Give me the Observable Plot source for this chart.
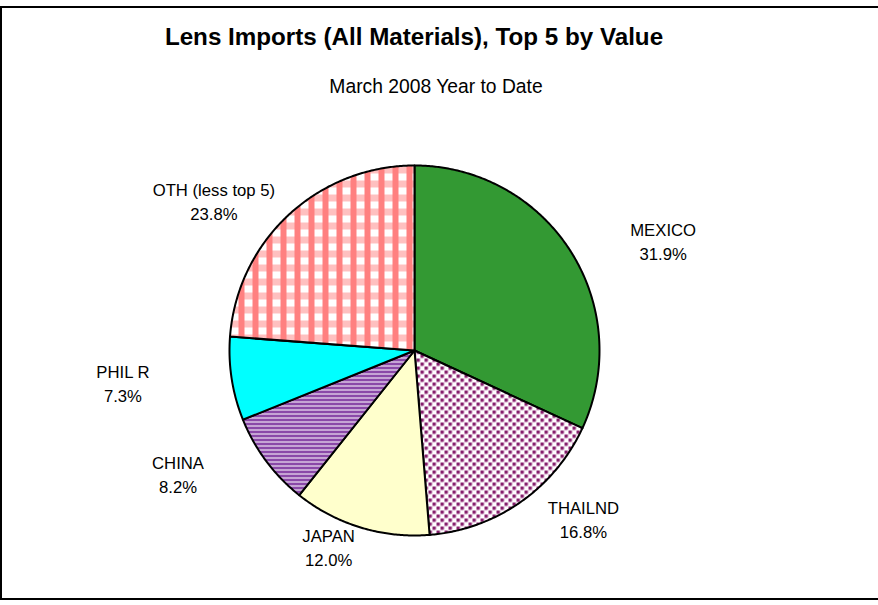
<!DOCTYPE html>
<html>
<head>
<meta charset="utf-8">
<script src="https://cdn.jsdelivr.net/npm/d3@7"></script>
<script src="https://cdn.jsdelivr.net/npm/@observablehq/plot@0.6"></script>
<style>
  html, body { margin: 0; padding: 0; background: #fff; }
  body { width: 878px; height: 605px; position: relative; overflow: hidden; font-family: "Liberation Sans", Arial, sans-serif; }
  #frame { position: absolute; left: 0px; top: 6px; width: 900px; height: 590px; border: 2px solid #000; box-sizing: content-box; }
  #title { position: absolute; left: 0; width: 828px; top: 23px; text-align: center; font-weight: bold; font-size: 24.2px; line-height: 28px; color: #000; }
  #subtitle { position: absolute; left: 0; width: 872px; top: 75px; text-align: center; font-size: 19.3px; line-height: 24px; color: #000; }
  #chart { position: absolute; left: 0; top: 110px; }
</style>
</head>
<body>
<div id="frame"></div>
<div id="title">Lens Imports (All Materials), Top 5 by Value</div>
<div id="subtitle">March 2008 Year to Date</div>
<div id="chart"></div>
<script>
// ---- data ----
const categories = ["MEXICO", "THAILND", "JAPAN", "CHINA", "PHIL R", "OTH (less top 5)"];
const shares = [31.9, 16.8, 12.0, 8.2, 7.3, 23.8];
// ---- styles ----
const sliceFills = ["#339933", "url(#pat-thai)", "#FFFFCC", "url(#pat-china)", "#00FFFF", "url(#pat-oth)"];

// ---- layout ----
const W = 878, H = 495;
const R = 185;            // pie radius in px
const cx = 414, cy = 240; // pie centre in px within svg
const labelRx = 1.595, labelRy = 1.108; // label ellipse, in pie radii

const total = d3.sum(shares);
let acc = 0;
const slices = categories.map((name, i) => {
  const a0 = acc / total * 2 * Math.PI;
  acc += shares[i];
  const a1 = acc / total * 2 * Math.PI;
  return {name, share: shares[i], a0, a1, mid: (a0 + a1) / 2, fill: sliceFills[i]};
});

const outline = [];
for (const s of slices) {
  outline.push({x: 0, y: 0, name: s.name, fill: s.fill});
  const n = Math.max(2, Math.ceil((s.a1 - s.a0) / (Math.PI / 360)));
  for (let k = 0; k <= n; k++) {
    const t = s.a0 + (s.a1 - s.a0) * k / n;
    outline.push({x: Math.sin(t), y: Math.cos(t), name: s.name, fill: s.fill});
  }
}

const labels = slices.map(s => ({
  x: labelRx * Math.sin(s.mid),
  y: labelRy * Math.cos(s.mid),
  text: `${s.name}\n${s.share.toFixed(1)}%`
}));

const plot = Plot.plot({
  width: W,
  height: H,
  margin: 0,
  x: {type: "linear", domain: [-cx / R, (W - cx) / R], range: [0, W], axis: null},
  y: {type: "linear", domain: [-(H - cy) / R, cy / R], range: [H, 0], axis: null},
  color: {type: "identity"},
  style: {background: "transparent", fontFamily: "Liberation Sans, Arial, sans-serif"},
  marks: [
    Plot.line(outline, {
      x: "x", y: "y", z: "name", fill: "fill",
      stroke: "#000", strokeWidth: 2, curve: "linear-closed", strokeLinejoin: "round"
    }),
    Plot.text(labels, {
      x: "x", y: "y", text: "text", fontSize: 16.7, fill: "#000", lineHeight: 1.45, textAnchor: "middle"
    })
  ]
});

// patterns
const ns = "http://www.w3.org/2000/svg";
const defs = document.createElementNS(ns, "defs");
defs.innerHTML = `
<pattern id="pat-thai" width="8" height="8" patternUnits="userSpaceOnUse">
  <rect width="8" height="8" fill="#ffffff"/>
  <rect x="0" y="0" width="3" height="3" fill="#851f6c"/>
  <rect x="4" y="4" width="3" height="3" fill="#851f6c"/>
  <rect x="3" y="0" width="1" height="3" fill="#d0a0c4"/>
  <rect x="7" y="4" width="1" height="3" fill="#d0a0c4"/>
  <rect x="0" y="3" width="3" height="1" fill="#d0a0c4"/>
  <rect x="4" y="7" width="3" height="1" fill="#d0a0c4"/>
</pattern>
<pattern id="pat-china" width="4" height="4" patternUnits="userSpaceOnUse">
  <rect width="4" height="4" fill="#8a48a8"/>
  <rect x="0" y="3" width="4" height="1" fill="#ffffff"/>
</pattern>
<pattern id="pat-oth" width="14" height="14" patternUnits="userSpaceOnUse">
  <rect width="14" height="14" fill="#ffffff"/>
  <rect x="0" y="0" width="14" height="7" fill="#ffc0c0"/>
  <rect x="0" y="0" width="6" height="14" fill="#ff8080"/>
</pattern>`;
plot.insertBefore(defs, plot.firstChild);

document.getElementById("chart").appendChild(plot);
</script>
</body>
</html>
